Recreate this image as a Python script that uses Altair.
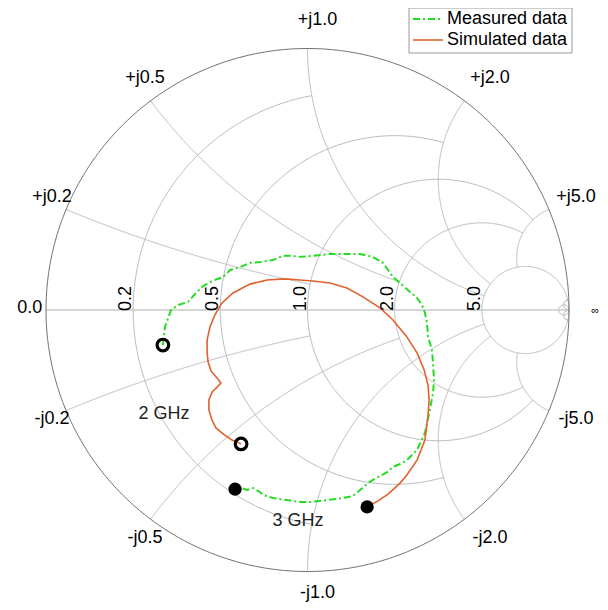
import numpy as np
import pandas as pd
import altair as alt

meas_re = [-0.553, -0.545, -0.533, -0.522, -0.495, -0.457, -0.423, -0.403, -0.380, -0.354,
           -0.323, -0.296, -0.258, -0.220, -0.178, -0.132, -0.094, -0.055, -0.036, 0.021,
           0.086, 0.151, 0.201, 0.250, 0.289, 0.327, 0.354, 0.392, 0.419, 0.438,
           0.449, 0.457, 0.461, 0.476, 0.480, 0.484, 0.480, 0.468, 0.449, 0.419,
           0.380, 0.354, 0.327, 0.304, 0.250, 0.228, 0.201, 0.174, 0.136, 0.075,
           0.010, -0.029, -0.078, -0.132, -0.170, -0.182, -0.208, -0.231, -0.254, -0.277]
meas_im = [-0.134, -0.065, -0.031, 0.000, 0.019, 0.031, 0.069, 0.088, 0.103, 0.115,
           0.126, 0.153, 0.164, 0.180, 0.184, 0.191, 0.207, 0.207, 0.203, 0.207,
           0.214, 0.214, 0.214, 0.203, 0.180, 0.126, 0.103, 0.069, 0.046, 0.019,
           -0.011, -0.050, -0.103, -0.153, -0.203, -0.268, -0.317, -0.382, -0.470, -0.535,
           -0.574, -0.589, -0.600, -0.620, -0.650, -0.665, -0.688, -0.711, -0.719, -0.727,
           -0.734, -0.734, -0.727, -0.719, -0.707, -0.696, -0.681, -0.688, -0.681, -0.685]

sim_re = [-0.254, -0.289, -0.323, -0.350, -0.365, -0.377, -0.377, -0.365, -0.342, -0.331,
          -0.346, -0.369, -0.380, -0.384, -0.384, -0.373, -0.354, -0.327, -0.285, -0.220,
          -0.155, -0.086, -0.029, 0.021, 0.086, 0.151, 0.212, 0.277, 0.327, 0.380,
          0.419, 0.446, 0.461, 0.465, 0.461, 0.449, 0.419, 0.380, 0.354, 0.308,
          0.270, 0.228]
sim_im = [-0.512, -0.497, -0.474, -0.451, -0.421, -0.382, -0.344, -0.314, -0.291, -0.279,
          -0.260, -0.233, -0.199, -0.161, -0.115, -0.065, -0.019, 0.027, 0.065, 0.099,
          0.115, 0.119, 0.115, 0.111, 0.103, 0.084, 0.050, 0.008, -0.038, -0.103,
          -0.164, -0.229, -0.287, -0.344, -0.402, -0.497, -0.574, -0.631, -0.662, -0.704,
          -0.730, -0.753]

series_names = ["Measured data", "Simulated data"]
series_colors = ["#22dd22", "#e0622e"]

# grid ticks (normalised impedance) and how far each grid line extends
res_ticks = [0.2, 0.5, 1.0, 2.0, 5.0, 50.0]
res_limits = [1.0, 2.0, 5.0, 5.0, np.inf, np.inf]
react_ticks = [0.2, 0.5, 1.0, 2.0, 5.0, 50.0]
react_limits = [1.0, 2.0, 5.0, 5.0, 5.0, np.inf]

freq_labels = ["2 GHz", "3 GHz"]
freq_re = [-0.549, -0.036]
freq_im = [-0.398, -0.807]

# ---- geometry helpers ----
def gamma(z):
    return (z - 1) / (z + 1)

grid_rows = []

def add_curve(name, g):
    for i, (a, b) in enumerate(zip(g.real, g.imag)):
        grid_rows.append({"name": name, "i": i, "u": a, "v": b})

for r, xm in zip(res_ticks, res_limits):
    s = np.arctan(xm / (1 + r)) if np.isfinite(xm) else np.pi / 2 - 1e-7
    t = np.linspace(-s, s, 500)
    add_curve(f"r{r}", gamma(r + 1j * (1 + r) * np.tan(t)))

for xv, rm in zip(react_ticks, react_limits):
    a0 = np.arctan(xv)
    a1 = np.arctan(xv / (1 + rm)) if np.isfinite(rm) else 1e-7
    a = np.linspace(a0, a1, 500)
    rr = xv / np.tan(a) - 1
    add_curve(f"x{xv}", gamma(rr + 1j * xv))
    add_curve(f"x-{xv}", gamma(rr - 1j * xv))

grid_df = pd.DataFrame(grid_rows)

th = np.linspace(0, 2 * np.pi, 721)
outer_df = pd.DataFrame({"i": np.arange(th.size), "u": np.cos(th), "v": np.sin(th)})
axis_df = pd.DataFrame({"i": [0, 1], "u": [-1.0, 1.0], "v": [0.0, 0.0]})

curve_df = pd.concat([
    pd.DataFrame({"series": series_names[0], "i": range(len(meas_re)), "u": meas_re, "v": meas_im}),
    pd.DataFrame({"series": series_names[1], "i": range(len(sim_re)), "u": sim_re, "v": sim_im}),
])

open_df = pd.DataFrame({"u": [meas_re[0], sim_re[0]], "v": [meas_im[0], sim_im[0]]})
fill_df = pd.DataFrame({"u": [meas_re[-1], sim_re[-1]], "v": [meas_im[-1], sim_im[-1]]})

# outer (reactance) labels
lab_rows = []
for xv in [0.2, 0.5, 1.0, 2.0, 5.0]:
    for sgn in (1, -1):
        g = gamma(1j * sgn * xv)
        grp = "edge_r" if xv == 5.0 else ("edge_b" if (xv == 1.0 and sgn < 0) else "normal")
        lab_rows.append({"t": f"{'+' if sgn > 0 else '-'}j{xv:.1f}", "u": 1.1 * g.real,
                         "v": 1.1 * g.imag, "grp": grp})
lab_rows.append({"t": "0.0", "u": -1.1, "v": 0.0, "grp": "normal"})
lab_df = pd.DataFrame(lab_rows)
inf_df = pd.DataFrame({"t": ["\u221e"], "u": [1.1], "v": [0.0]})

inner_df = pd.DataFrame({"t": [f"{r:.1f}" for r in res_ticks[:5]],
                         "u": [(r - 1) / (r + 1) for r in res_ticks[:5]],
                         "v": [0.0] * 5})
freq_df = pd.DataFrame({"t": freq_labels, "u": freq_re, "v": freq_im})
legend_df = pd.DataFrame({"t": series_names})

# ---- scales: centre of chart and radius in pixels ----
W, H = 592, 594
R = 261.5
cx, cy = 299.5, 302.0
xs = alt.Scale(domain=[-cx / R, (W - cx) / R], nice=False, zero=False)
ys = alt.Scale(domain=[-(H - cy) / R, cy / R], nice=False, zero=False)
X = alt.X("u:Q", scale=xs, axis=None)
Y = alt.Y("v:Q", scale=ys, axis=None)

FONT = "Liberation Sans"
FS = 18

grid = alt.Chart(grid_df).mark_line(color="#b8b8b8", strokeWidth=1, clip=True).encode(
    x=X, y=Y, detail="name:N", order="i:Q")
axis_line = alt.Chart(axis_df).mark_line(color="#c8c8c8", strokeWidth=1.5).encode(x=X, y=Y, order="i:Q")
outer = alt.Chart(outer_df).mark_line(color="#6e6e6e", strokeWidth=1).encode(x=X, y=Y, order="i:Q")

meas_line = alt.Chart(curve_df).transform_filter(alt.datum.series == series_names[0]).mark_line(
    strokeWidth=2, color=series_colors[0], strokeDash=[7, 3, 2, 3]).encode(x=X, y=Y, order="i:Q")
sim_line = alt.Chart(curve_df).transform_filter(alt.datum.series == series_names[1]).mark_line(
    strokeWidth=1.6, color=series_colors[1]).encode(x=X, y=Y, order="i:Q")

open_pts = alt.Chart(open_df).mark_point(shape="circle", size=135, filled=False, color="black",
                                         strokeWidth=3.2, opacity=1).encode(x=X, y=Y)
fill_pts = alt.Chart(fill_df).mark_point(shape="circle", size=175, filled=True, color="black",
                                         opacity=1).encode(x=X, y=Y)

def outer_text(grp, dx, dy):
    return alt.Chart(lab_df).transform_filter(alt.datum.grp == grp).mark_text(
        font=FONT, fontSize=FS, dx=dx, dy=dy, color="black", align="center", baseline="middle"
    ).encode(x=X, y=Y, text="t:N")

outer_labels = outer_text("normal", 10, -2)
edge_r_labels = outer_text("edge_r", 3, -2)
edge_b_labels = outer_text("edge_b", 10, -5)
inf_label = alt.Chart(inf_df).mark_text(font=FONT, fontSize=11, color="black", dy=1,
                                        align="center", baseline="middle").encode(x=X, y=Y, text="t:N")
inner_labels = alt.Chart(inner_df).mark_text(font=FONT, fontSize=FS, angle=270, dx=-1, dy=-2, color="black",
                                             align="left", baseline="alphabetic").encode(x=X, y=Y, text="t:N")
freq_text = alt.Chart(freq_df).mark_text(font=FONT, fontSize=FS, color="#222222",
                                         align="center", baseline="middle").encode(x=X, y=Y, text="t:N")

# ---- legend box (drawn by hand, top-right) ----
leg_box = alt.Chart(legend_df.head(1)).mark_rect(fill="white", stroke="#9a9a9a", strokeWidth=1).encode(
    x=alt.value(401), x2=alt.value(564), y=alt.value(0), y2=alt.value(45))
leg_meas = alt.Chart(legend_df.head(1)).mark_rule(color=series_colors[0], strokeWidth=2,
                                                  strokeDash=[7, 3, 2, 3]).encode(
    x=alt.value(405), x2=alt.value(435), y=alt.value(11))
leg_sim = alt.Chart(legend_df.head(1)).mark_rule(color=series_colors[1], strokeWidth=1.6).encode(
    x=alt.value(405), x2=alt.value(435), y=alt.value(32))
leg_t1 = alt.Chart(legend_df.head(1)).mark_text(font=FONT, fontSize=FS, color="black", align="left",
                                                baseline="middle").encode(
    x=alt.value(439), y=alt.value(11), text=alt.value(series_names[0]))
leg_t2 = alt.Chart(legend_df.head(1)).mark_text(font=FONT, fontSize=FS, color="black", align="left",
                                                baseline="middle").encode(
    x=alt.value(439), y=alt.value(32), text=alt.value(series_names[1]))

chart = alt.layer(grid, axis_line, outer, meas_line, sim_line, open_pts, fill_pts,
                  outer_labels, edge_r_labels, edge_b_labels, inf_label, inner_labels, freq_text,
                  leg_box, leg_meas, leg_sim, leg_t1, leg_t2).properties(
    width=W, height=H, padding=0, autosize=alt.AutoSizeParams(type="none")
).configure_view(stroke=None)

chart.save("out.html", embed_options={"renderer": "svg", "actions": False})
